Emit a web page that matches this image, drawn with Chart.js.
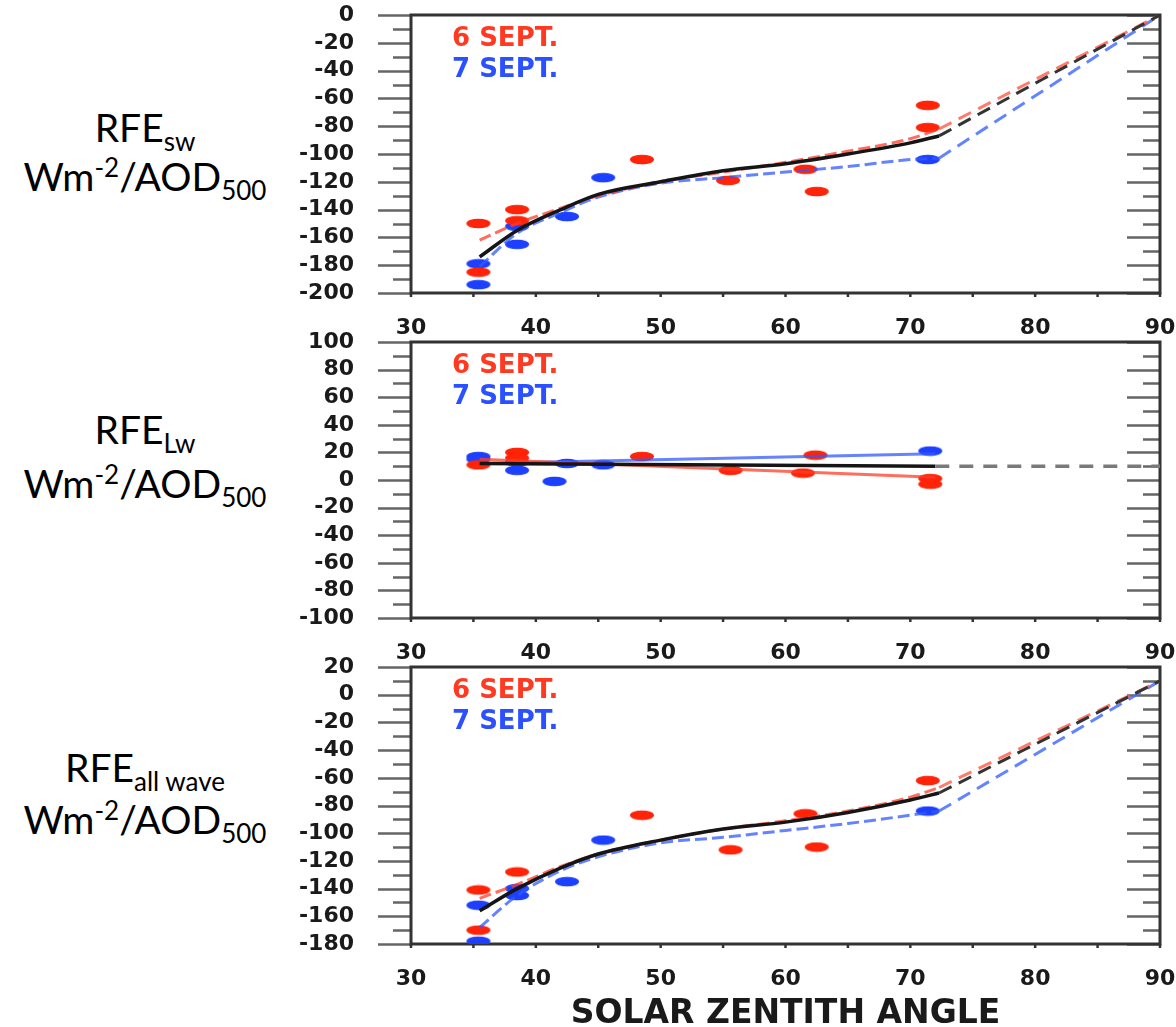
<!DOCTYPE html>
<html>
<head>
<meta charset="utf-8">
<script src="https://cdn.jsdelivr.net/npm/chart.js@4.4.1/dist/chart.umd.min.js"></script>
<style>
  body { margin: 0; background: #fff; width: 1176px; height: 1027px; position: relative; overflow: hidden; }
  canvas { position: absolute; left: 0; }
  .lbl { position: absolute; left: 0; width: 290px; text-align: center; font-family: Lato, "Open Sans", sans-serif; font-size: 39px; line-height: 39px; color: #000; white-space: nowrap; }
  .lbl sub { font-size: 26px; vertical-align: -9px; line-height: 0; }
  .lbl sup { font-size: 26px; vertical-align: 14px; line-height: 0; }
</style>
</head>
<body>
<div class="lbl" style="top:108px">RFE<sub>sw</sub></div>
<div class="lbl" style="top:157px">Wm<sup>-2</sup>/AOD<sub>500</sub></div>
<div class="lbl" style="top:410px">RFE<sub>Lw</sub></div>
<div class="lbl" style="top:464px">Wm<sup>-2</sup>/AOD<sub>500</sub></div>
<div class="lbl" style="top:748px">RFE<sub>all wave</sub></div>
<div class="lbl" style="top:800px">Wm<sup>-2</sup>/AOD<sub>500</sub></div>

<canvas id="c1" width="1176" height="360" style="top:0px"></canvas>
<canvas id="c2" width="1176" height="360" style="top:320px"></canvas>
<canvas id="c3" width="1176" height="381" style="top:650px"></canvas>

<script>
// solar zenith angle axis
const xTicks = [30, 40, 50, 60, 70, 80, 90];

// --- SW panel ---
const sza6Sw = [35.4, 35.4, 38.5, 38.5, 48.5, 55.4, 61.6, 62.5, 71.4, 71.4];
const rfe6Sw = [-150, -185, -140, -148, -104, -119, -111, -127, -65, -81];
const sza7Sw = [35.4, 35.4, 38.5, 38.5, 42.5, 45.4, 71.4];
const rfe7Sw = [-179, -194, -152, -165, -145, -117, -104];
const fitXSw = [35.5, 38.5, 42, 45, 50, 55, 60, 65, 70, 72.3];
const fit6Sw = [-162, -150, -139, -130, -120, -113, -106, -98, -89, -82];
const fit7Sw = [-181, -157, -142, -131, -121, -117, -113, -109, -104, -103];
const fitAllSw = [-174, -155, -140, -129, -120, -112, -107, -100, -92, -87];
const extXSw = [72.3, 90];
const ext6Sw = [-82, 0];
const ext7Sw = [-103, 0];
const extAllSw = [-87, 0];

// --- LW panel ---
const sza6Lw = [35.4, 38.5, 38.5, 48.5, 55.6, 61.4, 62.4, 71.6, 71.6];
const rfe6Lw = [11, 20, 16, 17, 7, 5, 18, 1, -3];
const sza7Lw = [35.4, 35.4, 38.5, 38.5, 41.5, 42.5, 45.4, 71.6];
const rfe7Lw = [17, 15, 13, 7, -1, 12, 11, 21];
const fitXLw = [35.5, 72];
const fit6Lw = [15, 2];
const fit7Lw = [12, 19];
const fitAllLw = [12, 10];
const extXLw = [72, 90];
const extAllLw = [10, 10];

// --- all wave panel ---
const sza6All = [35.4, 35.4, 38.5, 48.5, 55.6, 61.6, 62.5, 71.4];
const rfe6All = [-141, -170, -128, -87, -112, -86, -110, -62];
const sza7All = [35.4, 35.4, 38.5, 38.5, 42.5, 45.4, 71.4];
const rfe7All = [-152, -178, -140, -145, -135, -105, -84];
const fitXAll = [35.5, 38.5, 42, 45, 50, 55, 60, 65, 70, 72.3];
const fit6All = [-147, -137, -124, -115, -105, -97, -91, -84, -74, -67];
const fit7All = [-168, -145, -127, -117, -107, -103, -98, -93, -87, -84];
const fitAllAll = [-156, -140, -125, -115, -105, -97, -92, -85, -76, -71];
const extXAll = [72.3, 90];
const ext6All = [-67, 10];
const ext7All = [-84, 10];
const extAllAll = [-71, 10];

const RED = '#ff2308';
const BLUE = '#1d40ff';
const TICK_FONT = { family: '"DejaVu Sans", sans-serif', size: 22, weight: 'bold', lineHeight: 1 };

const pts = (xs, ys) => xs.map((x, i) => ({ x, y: ys[i] }));

// flat ellipse marker like the original plot symbols
function blob(color) {
  const c = document.createElement('canvas');
  c.width = 26; c.height = 11;
  const g = c.getContext('2d');
  g.fillStyle = color;
  g.beginPath();
  g.ellipse(13, 5.5, 12, 4.8, 0, 0, Math.PI * 2);
  g.fill();
  return c;
}
const redBlob = blob(RED);
const blueBlob = blob(BLUE);

function line(data, color, width, dash) {
  return { type: 'line', data, borderColor: color, borderWidth: width, borderDash: dash || [],
           pointRadius: 0, fill: false, cubicInterpolationMode: 'monotone' };
}
function marks(data, img) {
  return { type: 'scatter', data, pointStyle: img, pointRadius: 11, showLine: false };
}

// the tick padding is added to the scale's outer padding; drop it so the plot box stays put
function noPad(s) {
  s.paddingTop = 0; s.paddingBottom = 0; s.paddingLeft = 0; s.paddingRight = 0;
}

// frame, outward left ticks, inward right ticks, small x ticks, and the legend text
const framePlugin = {
  id: 'frame',
  beforeDatasetsDraw(chart) {
    const { ctx, chartArea: a, scales: { x, y } } = chart;
    ctx.save();
    ctx.lineWidth = 2.5;
    ctx.strokeStyle = '#666';
    for (let v = y.min; v <= y.max; v += 10) {
      const py = Math.round(y.getPixelForValue(v)) + 0.5;
      const major = (v - y.min) % 20 === 0;
      ctx.beginPath();
      ctx.moveTo(a.left - (major ? 33 : 18), py);
      ctx.lineTo(a.left, py);
      ctx.moveTo(a.right - (major ? 33 : 17), py);
      ctx.lineTo(a.right, py);
      ctx.stroke();
    }
    ctx.strokeStyle = '#333';
    for (let v = x.min; v <= x.max; v += 5) {
      const px = x.getPixelForValue(v);
      ctx.beginPath();
      ctx.moveTo(px, a.bottom);
      ctx.lineTo(px, a.bottom + 4);
      ctx.stroke();
    }
    ctx.lineWidth = 3;
    ctx.strokeStyle = '#333';
    ctx.strokeRect(a.left, a.top, a.right - a.left, a.bottom - a.top);

    ctx.font = 'bold 26px "DejaVu Sans", sans-serif';
    ctx.textBaseline = 'middle';
    ctx.fillStyle = '#ff3a20';
    ctx.fillText('6 SEPT.', a.left + 41, a.top + 24);
    ctx.fillStyle = '#2a50ff';
    ctx.fillText('7 SEPT.', a.left + 41, a.top + 55);
    ctx.restore();
  }
};

function makeChart(id, cfg) {
  const ctx = document.getElementById(id).getContext('2d');
  return new Chart(ctx, {
    type: 'scatter',
    data: { datasets: cfg.datasets },
    plugins: [framePlugin],
    options: {
      responsive: false,
      animation: false,
      devicePixelRatio: 1,
      layout: { autoPadding: false, padding: { top: cfg.padTop, right: 16, left: 0, bottom: 0 } },
      plugins: { legend: { display: false }, tooltip: { enabled: false } },
      scales: {
        x: {
          type: 'linear', min: 30, max: 90,
          afterBuildTicks: s => { s.ticks = xTicks.map(value => ({ value })); },
          afterFit: s => { s.height = cfg.xHeight; noPad(s); },
          grid: { display: false, drawTicks: false },
          border: { display: false },
          ticks: { font: TICK_FONT, color: '#1a1a1a', padding: 24, maxRotation: 0, autoSkip: false },
          title: cfg.title ? {
            display: true, text: cfg.title, color: '#1a1a1a', padding: 0,
            font: { family: '"DejaVu Sans", sans-serif', size: 33, weight: 'bold', lineHeight: 1 }
          } : { display: false }
        },
        y: {
          type: 'linear', min: cfg.yMin, max: cfg.yMax,
          afterFit: s => { s.width = 411; noPad(s); },
          grid: { display: false, drawTicks: false },
          border: { display: false },
          ticks: { stepSize: 20, font: TICK_FONT, color: '#1a1a1a', padding: 57, autoSkip: false }
        }
      }
    }
  });
}

makeChart('c1', {
  padTop: 15, xHeight: 67, yMin: -200, yMax: 0,
  datasets: [
    line(pts(extXSw, extAllSw), '#333', 3, [14, 8]),
    line(pts(extXSw, ext6Sw), 'rgba(255,90,70,0.8)', 3, [14, 8]),
    line(pts(extXSw, ext7Sw), 'rgba(70,110,255,0.85)', 3, [14, 8]),
    line(pts(fitXSw, fitAllSw), '#151515', 3.5),
    line(pts(fitXSw, fit6Sw), 'rgba(255,60,40,0.75)', 3, [12, 5]),
    line(pts(fitXSw, fit7Sw), 'rgba(50,90,255,0.75)', 3, [12, 5]),
    marks(pts(sza6Sw, rfe6Sw), redBlob),
    marks(pts(sza7Sw, rfe7Sw), blueBlob)
  ]
});

makeChart('c2', {
  padTop: 22, xHeight: 62, yMin: -100, yMax: 100,
  datasets: [
    line(pts(extXLw, extAllLw), '#7a7a7a', 3.5, [14, 10]),
    line(pts(fitXLw, fitAllLw), '#151515', 3.5),
    line(pts(fitXLw, fit6Lw), 'rgba(255,60,40,0.75)', 3),
    line(pts(fitXLw, fit7Lw), 'rgba(50,90,255,0.75)', 3),
    marks(pts(sza6Lw, rfe6Lw), redBlob),
    marks(pts(sza7Lw, rfe7Lw), blueBlob)
  ]
});

makeChart('c3', {
  padTop: 17, xHeight: 87, yMin: -180, yMax: 20, title: 'SOLAR ZENTITH ANGLE',
  datasets: [
    line(pts(extXAll, extAllAll), '#333', 3, [14, 8]),
    line(pts(extXAll, ext6All), 'rgba(255,90,70,0.8)', 3, [14, 8]),
    line(pts(extXAll, ext7All), 'rgba(70,110,255,0.85)', 3, [14, 8]),
    line(pts(fitXAll, fitAllAll), '#151515', 3.5),
    line(pts(fitXAll, fit6All), 'rgba(255,60,40,0.75)', 3, [12, 5]),
    line(pts(fitXAll, fit7All), 'rgba(50,90,255,0.75)', 3, [12, 5]),
    marks(pts(sza6All, rfe6All), redBlob),
    marks(pts(sza7All, rfe7All), blueBlob)
  ]
});
</script>
</body>
</html>
